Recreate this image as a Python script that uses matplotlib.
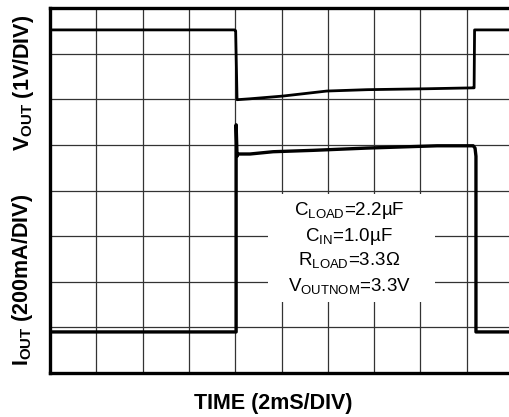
import matplotlib
matplotlib.use("Agg")
import matplotlib.pyplot as plt
from matplotlib.patches import Rectangle

plt.rcParams['font.family'] = ['Liberation Sans', 'DejaVu Sans']
plt.rcParams['mathtext.fontset'] = 'custom'
plt.rcParams['mathtext.rm'] = 'Liberation Sans'
plt.rcParams['mathtext.bf'] = 'Liberation Sans:bold'

# scope traces, in divisions (x: 0..10, y: 0..8)
vout_t = [0.0, 3.99, 4.01, 4.04, 4.32, 5.03, 5.98, 6.85, 8.14, 9.14, 9.16, 9.17, 10.2]
vout_v = [7.52, 7.52, 7.50, 5.99, 6.01, 6.07, 6.18, 6.21, 6.23, 6.25, 6.25, 7.52, 7.52]

iout_t = [0.0, 4.02, 4.02, 4.04, 4.06, 4.32, 4.82, 5.68, 6.85, 8.36, 9.14, 9.18, 9.20, 9.20, 10.2]
iout_v = [0.90, 0.90, 5.44, 4.75, 4.80, 4.80, 4.85, 4.88, 4.93, 4.98, 4.98, 4.93, 4.75, 0.90, 0.90]

notes = [r'C$_{\mathrm{LOAD}}$=2.2µF',
         r'C$_{\mathrm{IN}}$=1.0µF',
         r'R$_{\mathrm{LOAD}}$=3.3Ω',
         r'V$_{\mathrm{OUTNOM}}$=3.3V']
note_y = [3.46, 2.89, 2.35, 1.78]

fig = plt.figure(figsize=(5.09, 4.17), dpi=100)
ax = fig.add_axes([50 / 509, 44 / 417, 463 / 509, 365 / 417])

ax.set_xlim(0, 10)
ax.set_ylim(0, 8)
ax.set_xticks(range(11))
ax.set_yticks(range(9))
ax.tick_params(length=0, labelbottom=False, labelleft=False)
ax.set_axisbelow(True)
ax.grid(True, color='#333333', lw=0.9)
for s in ['left', 'top', 'bottom']:
    ax.spines[s].set_linewidth(2.4)
ax.spines['right'].set_visible(False)

ax.plot(vout_t, vout_v, color='black', lw=2.0, zorder=3)
ax.plot(iout_t, iout_v, color='black', lw=2.4, zorder=3)

# white label box over the grid
ax.add_patch(Rectangle((4.71, 1.56), 3.61, 2.37, facecolor='white', edgecolor='none', zorder=1))
for txt, y in zip(notes, note_y):
    ax.text(6.46, y, txt, ha='center', va='baseline', fontsize=13.5, zorder=4)

fig.text(273 / 509, 1 - 409 / 417, 'TIME (2mS/DIV)', ha='center', va='baseline',
         fontsize=15.5, fontweight='bold')
fig.text(23 / 509, 1 - 83 / 417, r'$\mathbf{V_{OUT}}$ (1V/DIV)', rotation=90,
         ha='center', va='center', fontsize=15.5, fontweight='bold')
fig.text(23 / 509, 1 - 280 / 417, r'$\mathbf{I_{OUT}}$ (200mA/DIV)', rotation=90,
         ha='center', va='center', fontsize=15.5, fontweight='bold')

fig.savefig('out.png', dpi=100)
